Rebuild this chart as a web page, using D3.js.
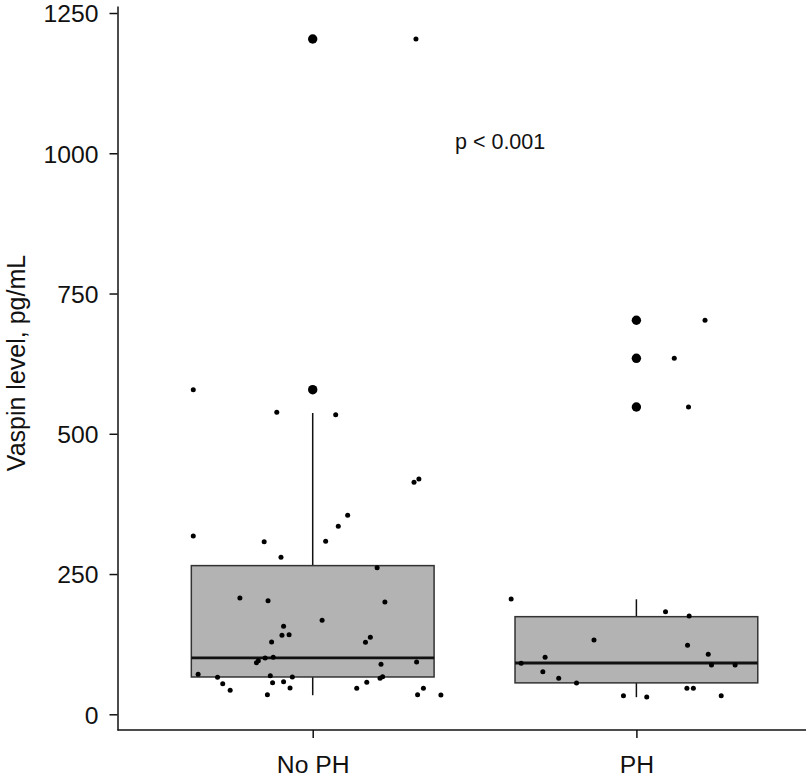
<!DOCTYPE html>
<html lang="en">

<head>
    <meta charset="UTF-8">
    <title>Vaspin level by PH status</title>
    <script src="https://d3js.org/d3.v7.min.js"></script>
    <style>
        body {
            margin: 0;
            background: white;
            font-family: "Liberation Sans", Arial, Helvetica, sans-serif;
        }

        #vis text {
            fill: #111;
        }
    </style>
</head>

<body>
    <svg id="vis"></svg>
    <script>
        const width = 806;
        const height = 779;

        // groups on the x axis
        const groups = ["No PH", "PH"];

        // box stats per group: [lower whisker, Q1, median, Q3, upper whisker]
        const boxStats = [
            [34, 66.5, 100.4, 265, 537],
            [30.5, 56, 91.4, 174, 205]
        ];

        // outliers drawn on the box centre
        const outliersNoPH = [578.6, 1203.7];
        const outliersPH = [702.3, 634.5, 547.7];

        // jittered raw values, No PH
        const noPHValues = [318, 307.6, 279.8, 308.4, 335.1, 354.7, 261.3, 207.3, 202.5, 200.2,
            167.5, 156.9, 140.8, 141.9, 128.9, 128.3, 137.2, 92.0, 95.5, 100.3,
            101.6, 89.1, 93.2, 71.3, 66.0, 54.5, 42.8, 68.8, 56.3, 58.1,
            66.5, 46.9, 34.9, 46.3, 57.0, 64.2, 67.0, 34.9, 46.3, 34.4,
            578.6, 538.3, 534.0, 413.5, 419.4, 1203.7];
        const noPHJitter = [-0.369, -0.150, -0.098, 0.040, 0.079, 0.108, 0.199, -0.225, -0.138, 0.223,
            0.029, -0.090, -0.095, -0.073, -0.127, 0.163, 0.178, -0.174, -0.168, -0.147,
            -0.122, 0.211, 0.321, -0.354, -0.294, -0.278, -0.255, -0.131, -0.124, -0.090,
            -0.063, -0.070, -0.140, 0.136, 0.167, 0.208, 0.216, 0.324, 0.342, 0.396,
            -0.369, -0.111, 0.071, 0.313, 0.328, 0.319];

        // jittered raw values, PH
        const phValues = [205.5, 182.9, 175.2, 132.4, 123.0, 106.9, 101.6, 90.9, 87.9, 87.9,
            75.9, 64.2, 55.8, 33.2, 30.8, 46.3, 46.3, 33.2, 702.3, 634.5, 547.7];
        const phJitter = [-0.387, 0.090, 0.163, -0.131, 0.158, 0.222, -0.282, -0.356, 0.232, 0.305,
            -0.289, -0.240, -0.185, -0.040, 0.032, 0.156, 0.176, 0.262, 0.212, 0.117, 0.161];

        const yTicks = [0, 250, 500, 750, 1000, 1250];
        const yTitle = "Vaspin level, pg/mL";
        const pLabel = "p < 0.001";
        const pPos = [1.579, 1008];

        const svg = d3.select("#vis").attr("width", width).attr("height", height);

        const x = d3.scaleLinear().domain([0.4, 2.6]).range([118.5, 830.6]);
        const y = d3.scaleLinear().domain([-28, 1262.5]).range([730, 6]);
        const boxWidth = 0.75;

        const data = [
            { values: noPHValues, jitter: noPHJitter, outliers: outliersNoPH, stats: boxStats[0] },
            { values: phValues, jitter: phJitter, outliers: outliersPH, stats: boxStats[1] }
        ];

        // boxes
        const boxes = svg.append("g");
        data.forEach((g, i) => {
            const c = i + 1;
            const s = g.stats;
            const bx = boxes.append("g");
            bx.append("line")
                .attr("x1", x(c)).attr("x2", x(c))
                .attr("y1", y(s[3])).attr("y2", y(s[4]))
                .attr("stroke", "#111").attr("stroke-width", 1.5);
            bx.append("line")
                .attr("x1", x(c)).attr("x2", x(c))
                .attr("y1", y(s[1])).attr("y2", y(s[0]))
                .attr("stroke", "#111").attr("stroke-width", 1.5);
            bx.append("rect")
                .attr("x", x(c - boxWidth / 2))
                .attr("width", x(c + boxWidth / 2) - x(c - boxWidth / 2))
                .attr("y", y(s[3]))
                .attr("height", y(s[1]) - y(s[3]))
                .attr("fill", "#b3b3b3")
                .attr("stroke", "#333")
                .attr("stroke-width", 1.5);
            bx.append("line")
                .attr("x1", x(c - boxWidth / 2)).attr("x2", x(c + boxWidth / 2))
                .attr("y1", y(s[2])).attr("y2", y(s[2]))
                .attr("stroke", "#111").attr("stroke-width", 2.8);
            bx.selectAll("circle.out")
                .data(g.outliers)
                .join("circle")
                .attr("class", "out")
                .attr("cx", x(c))
                .attr("cy", d => y(d))
                .attr("r", 4.7)
                .attr("fill", "#000");
        });

        // jittered points
        data.forEach((g, i) => {
            svg.append("g").selectAll("circle")
                .data(g.values)
                .join("circle")
                .attr("cx", (d, j) => x(i + 1 + g.jitter[j]))
                .attr("cy", d => y(d))
                .attr("r", 2.5)
                .attr("fill", "#000");
        });

        // axes
        const yAxis = svg.append("g")
            .attr("transform", "translate(117.5,0)")
            .call(d3.axisLeft(y).tickValues(yTicks).tickFormat(d3.format("d"))
                .tickSize(8).tickSizeOuter(0).tickPadding(11));
        yAxis.selectAll("text").attr("dy", "0.36em");

        const xAxis = svg.append("g")
            .attr("transform", "translate(0,730)")
            .call(d3.axisBottom(x).tickValues([1, 2]).tickFormat(d => groups[d - 1])
                .tickSize(8).tickSizeOuter(0).tickPadding(17));
        xAxis.select(".domain").attr("d", `M${117.5},0H${width}`);

        [yAxis, xAxis].forEach(a => {
            a.selectAll("path, line").attr("stroke", "#111").attr("stroke-width", 1.5);
            a.selectAll("text")
                .attr("font-family", "'Liberation Sans', Arial, sans-serif")
                .attr("font-size", 24.7);
        });

        svg.append("text")
            .attr("transform", `translate(24.5,${363}) rotate(-90)`)
            .attr("text-anchor", "middle")
            .attr("font-size", 25)
            .text(yTitle);

        svg.append("text")
            .attr("x", x(pPos[0]))
            .attr("y", y(pPos[1]))
            .attr("text-anchor", "middle")
            .attr("font-size", 21.5)
            .text(pLabel);
    </script>
</body>

</html>
